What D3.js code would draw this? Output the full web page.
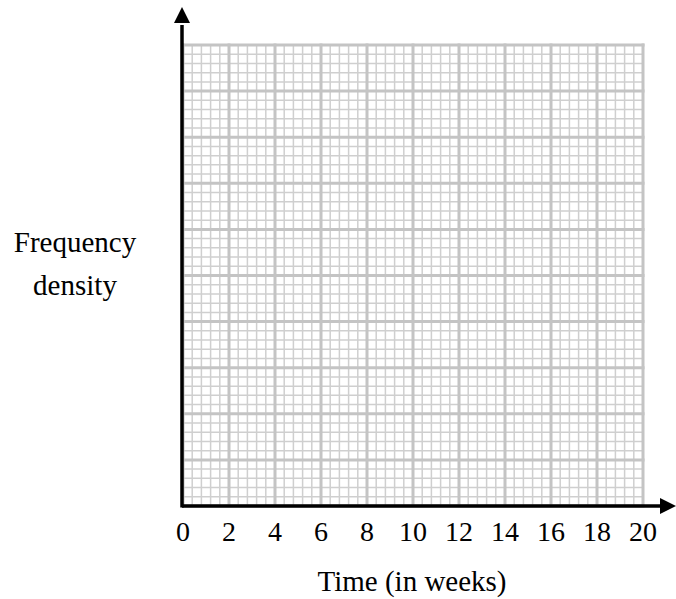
<!DOCTYPE html>
<html>
<head>
<meta charset="utf-8">
<script src="https://cdn.jsdelivr.net/npm/d3@7"></script>
</head>
<body style="margin:0">
<svg id="chart" width="676" height="599"></svg>
<script>
// tick labels along the time axis
const xTickLabels = [0, 2, 4, 6, 8, 10, 12, 14, 16, 18, 20];
const xLabel = "Time (in weeks)";
const yLabelLines = ["Frequency", "density"];
// empty grid: 10 big squares high, 5 small squares per big square
const yMajorCount = 10;
const minorPerMajor = 5;

var margin = {top: 45, right: 33, bottom: 93, left: 183};

var root = d3.select("#chart");

// scales in page coordinates
const x = d3.scaleLinear().domain([0, 20]).range([margin.left, margin.left + 460]);
const y = d3.scaleLinear().domain([0, yMajorCount]).range([margin.top + 461, margin.top]);

// text first, straight on the svg
root.selectAll("text.tick").data(xTickLabels).enter().append("text")
  .attr("class", "tick")
  .attr("x", d => x(d))
  .attr("y", y(0) + 35)
  .attr("text-anchor", "middle")
  .style("font-family", "'Liberation Serif'")
  .style("font-size", "28px")
  .text(d => String(d));

root.append("text")
  .attr("x", x(10) - 1)
  .attr("y", y(0) + 85)
  .attr("text-anchor", "middle")
  .style("font-family", "'Liberation Serif'")
  .style("font-size", "29px")
  .text(xLabel);

root.selectAll("text.ylab").data(yLabelLines).enter().append("text")
  .attr("class", "ylab")
  .attr("x", 75)
  .attr("y", (d, i) => 252 + i * 43)
  .attr("text-anchor", "middle")
  .style("font-family", "'Liberation Serif'")
  .style("font-size", "29px")
  .text(d => d);

var svg = root.append("g");

// minor grid
const xMinor = d3.range(0, 20.001, 2 / minorPerMajor);
const yMinor = d3.range(0, yMajorCount + 0.001, 1 / minorPerMajor);
svg.append("g").selectAll("line").data(xMinor).enter().append("line")
  .attr("x1", d => x(d)).attr("x2", d => x(d))
  .attr("y1", y(0)).attr("y2", y(yMajorCount))
  .attr("stroke", "#cfcfcf").attr("stroke-width", 1.5);
svg.append("g").selectAll("line").data(yMinor).enter().append("line")
  .attr("y1", d => y(d)).attr("y2", d => y(d))
  .attr("x1", x(0)).attr("x2", x(20))
  .attr("stroke", "#cfcfcf").attr("stroke-width", 1.5);

// major grid
svg.append("g").selectAll("line").data(xTickLabels).enter().append("line")
  .attr("x1", d => x(d)).attr("x2", d => x(d))
  .attr("y1", y(0)).attr("y2", y(yMajorCount) - 1.5)
  .attr("stroke", "#c4c4c4").attr("stroke-width", 3);
svg.append("g").selectAll("line").data(d3.range(0, yMajorCount + 1)).enter().append("line")
  .attr("y1", d => y(d)).attr("y2", d => y(d))
  .attr("x1", x(0)).attr("x2", x(20) + 1.5)
  .attr("stroke", "#c4c4c4").attr("stroke-width", 3);

// axes with arrowheads
const ox = x(0) - 1, oy = y(0);
svg.append("line")
  .attr("x1", ox).attr("x2", ox + 481)
  .attr("y1", oy).attr("y2", oy)
  .attr("stroke", "#000").attr("stroke-width", 3.5);
svg.append("path")
  .attr("d", `M${ox + 494},${oy} L${ox + 478},${oy - 8} L${ox + 478},${oy + 8} Z`)
  .attr("fill", "#000");
svg.append("line")
  .attr("x1", ox).attr("x2", ox)
  .attr("y1", oy + 1.5).attr("y2", margin.top - 20)
  .attr("stroke", "#000").attr("stroke-width", 3.5);
svg.append("path")
  .attr("d", `M${ox},${margin.top - 38} L${ox - 8},${margin.top - 22} L${ox + 8},${margin.top - 22} Z`)
  .attr("fill", "#000");
</script>
</body>
</html>
